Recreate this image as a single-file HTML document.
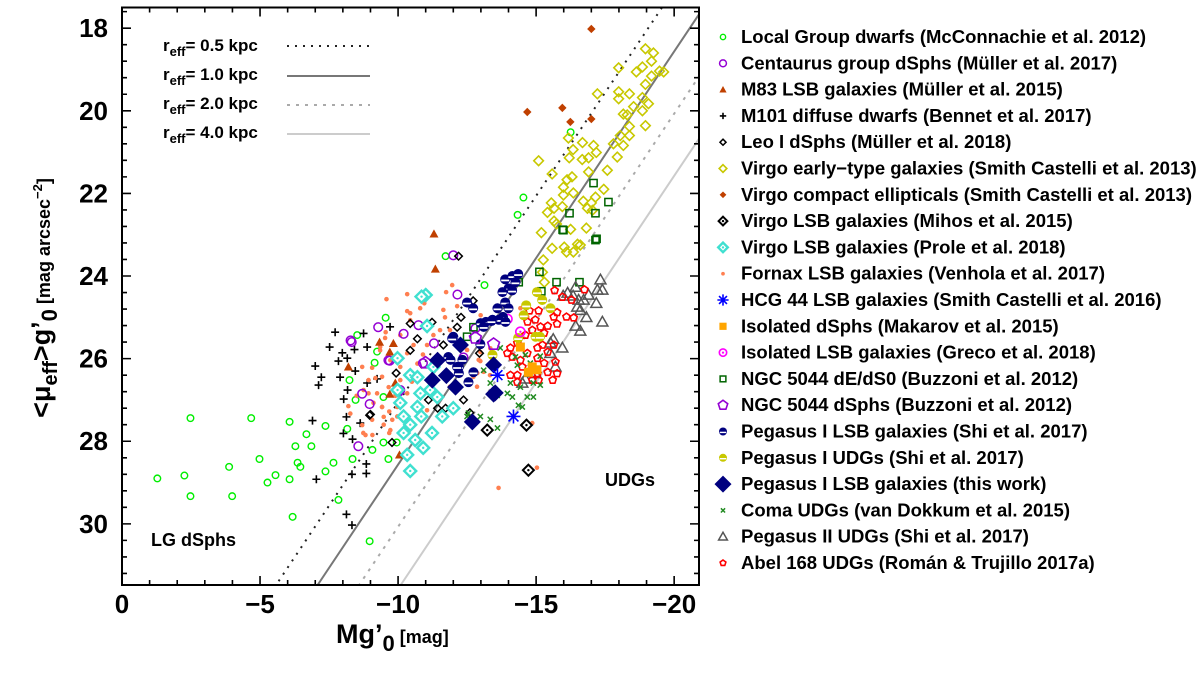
<!DOCTYPE html>
<html><head><meta charset="utf-8"><style>
html,body{margin:0;padding:0;background:#fff;}
svg{display:block;font-family:"Liberation Sans",Arial,sans-serif;font-weight:bold;}
</style></head><body>
<svg id="chart" width="1200" height="676" viewBox="0 0 1200 676" xmlns="http://www.w3.org/2000/svg">
<rect width="1200" height="676" fill="#fff"/>
<g id="lines"></g><g id="marks"></g><g id="axes"></g><g id="legend"></g>
</svg>
<script>
// ---- data arrays (M_g, mu_eff) ----
const lgM=[-1.28,-2.26,-2.48,-2.48,-3.88,-3.99,-4.68,-4.98,-5.27,-5.56,-6.07,-6.07,-6.28,-6.36,-6.46,-6.68,-6.86,-6.18,-7.37,-7.37,-7.66,-7.84,-8.16,-8.35,-8.97,-9.07,-9.47,-9.65,-9.55,-8.52,-9.24,-9.15,-8.24,-8.46,-9.47,-9.95,-11.72,-14.54,-14.33,-16.25,-13.13,-10.85];
const lgMu=[28.9,28.83,27.44,29.33,28.62,29.33,27.44,28.43,29.0,28.82,28.92,27.53,28.12,28.52,28.62,27.83,28.12,29.83,27.63,28.73,28.52,29.42,27.7,28.43,30.42,28.21,28.03,28.43,25.01,25.43,25.83,26.1,26.52,27.0,26.93,28.03,23.52,22.1,22.52,20.52,24.22,24.5];
const cenM=[-8.32,-9.28,-10.2,-8.7,-8.97,-8.56,-10.08,-10.74,-11.3,-9.65,-10.9,-8.28,-9.7,-10.03,-12.15,-12.37,-12.8,-12.0];
const cenMu=[25.6,25.24,25.4,26.85,27.1,28.12,26.76,25.19,25.63,26.04,26.11,25.56,26.05,26.8,24.45,25.97,25.27,23.5];
const m83M=[-11.3,-11.35,-8.2,-9.33,-9.83,-9.7,-9.9,-10.3,-10.05,-9.7];
const m83Mu=[22.98,23.83,26.2,25.6,25.63,25.84,26.59,27.68,28.33,26.86];
const m101M=[-7.72,-7.52,-7.98,-7.84,-8.16,-8.42,-8.75,-8.88,-7.0,-7.22,-7.12,-7.9,-8.17,-8.03,-8.88,-9.24,-8.13,-8.63,-6.9,-8.02,-8.35,-8.85,-8.33,-8.85,-7.04,-8.13,-8.33,-9.71,-8.45];
const m101Mu=[25.36,25.72,25.86,26.06,25.99,25.78,25.39,25.72,26.18,26.45,26.64,26.45,26.76,26.98,26.59,26.49,27.41,27.56,27.5,27.81,27.95,28.55,28.8,28.78,28.92,29.77,30.03,25.23,26.3];
const leoM=[-12.19,-11.23,-10.7,-10.44,-12.28,-12.14,-11.64,-12.72,-12.5,-9.93,-11.1,-11.43,-11.72,-12.37,-12.6,-9.0,-9.78,-8.97,-10.44,-12.95];
const leoMu=[23.52,25.12,25.52,25.8,25.0,25.24,25.67,24.6,24.65,26.35,27.0,27.2,27.2,27.0,27.31,27.35,28.03,27.37,25.15,25.87];
const vetM=[-18.96,-19.25,-19.18,-17.99,-18.85,-18.63,-19.47,-19.62,-19.18,-18.96,-17.22,-17.99,-18.38,-17.99,-18.85,-19.07,-18.53,-18.85,-18.16,-18.3,-18.38,-18.96,-18.05,-18.38,-17.8,-18.16,-17.08,-16.68,-16.17,-16.34,-17.18,-17.94,-16.2,-16.67,-16.9,-15.09,-15.58,-16.9,-17.58,-16.12,-16.3,-15.99,-17.45,-16.35,-15.99,-17.15,-16.71,-17.0,-15.55,-15.65,-15.95,-16.86,-15.41,-17.04,-15.65,-15.74,-15.19,-16.25,-16.82,-15.58,-16.5,-16.1,-15.26,-15.23,-16.02,-16.35,-16.6,-15.3];
const vetMu=[18.5,18.6,18.8,18.96,18.94,19.06,19.04,19.06,19.16,19.36,19.59,19.54,19.59,19.71,19.68,19.83,19.9,20.0,20.08,20.1,20.38,20.36,20.6,20.6,20.8,20.84,20.84,20.77,20.66,20.94,21.01,21.12,21.14,21.18,21.14,21.21,21.53,21.48,21.44,21.67,21.6,21.85,21.9,21.99,22.04,22.09,22.19,22.23,22.23,22.36,22.32,22.36,22.46,22.41,22.67,22.74,22.95,22.87,22.84,23.33,23.23,23.42,23.61,23.91,23.3,23.42,23.25,24.15];
const vceM=[-17.0,-14.68,-15.95,-16.24,-17.0];
const vceMu=[18.02,20.03,19.93,20.27,20.2];
const mihM=[-14.65,-13.23,-14.72];
const mihMu=[27.61,27.73,28.7];
const proM=[-11.0,-11.05,-9.98,-9.98,-10.44,-10.7,-10.81,-11.16,-10.7,-10.08,-10.2,-10.44,-10.84,-11.23,-10.91,-10.62,-10.2,-11.42,-11.6,-12.0,-10.33,-10.44,-11.28,-10.85];
const proMu=[24.46,25.21,25.99,26.76,26.4,26.45,26.84,26.76,27.17,27.07,27.4,27.6,27.4,27.8,28.16,27.97,27.8,26.93,27.4,27.2,28.33,28.72,26.2,24.5];
const forM=[-9.58,-10.33,-10.8,-10.95,-11.96,-11.74,-12.14,-11.7,-10.33,-10.44,-9.53,-9.35,-9.06,-8.7,-9.18,-9.42,-9.66,-9.24,-9.11,-9.42,-9.68,-9.79,-9.48,-8.74,-9.06,-9.68,-9.97,-8.27,-8.93,-8.93,-10.08,-10.33,-10.56,-11.05,-11.28,-11.52,-11.88,-12.07,-12.86,-12.73,-12.98,-12.5,-10.7,-10.33,-10.08,-9.72,-8.75,-9.72,-8.2,-8.82,-8.7,-9.07,-9.42,-9.48,-9.97,-10.44,-10.08,-9.55,-9.35,-10.5,-11.05,-11.88,-13.33,-13.64,-14.86,-15.03,-12.98,-12.87,-13.34,-11.64,-12.99,-13.1,-12.92,-14.43,-14.68,-10.9,-11.3,-12.3,-8.5,-9.9];
const forMu=[24.56,24.44,24.78,24.66,24.22,24.39,24.73,25.0,24.85,25.07,25.5,25.72,26.22,26.2,26.47,26.44,26.69,26.84,27.07,27.17,27.28,27.48,27.6,27.8,27.48,27.8,27.4,27.33,26.52,26.84,26.2,25.87,25.67,25.67,25.43,25.31,25.31,25.5,26.68,26.44,25.84,25.79,26.12,26.84,26.52,26.04,26.76,27.73,27.15,27.85,27.61,27.85,27.17,27.41,27.17,24.9,25.43,25.36,25.8,26.56,27.25,26.68,26.4,29.13,27.56,28.64,26.06,26.35,25.75,24.82,24.95,26.32,26.03,24.78,24.99,25.9,26.3,26.0,26.9,26.9];
const hcgM=[-13.6,-14.18];
const hcgMu=[26.4,27.4];
const isoM=[-14.43,-14.86,-14.72,-15.03];
const isoMu=[25.72,26.2,26.33,26.27];
const grecoM=[-13.96,-14.43];
const grecoMu=[25.04,25.35];
const n5044eM=[-15.96,-17.15,-15.12,-15.74,-16.57,-14.37,-15.19,-12.73,-12.5,-17.08,-17.62,-16.21,-17.15,-15.99,-17.19];
const n5044eMu=[22.88,23.13,23.9,24.15,24.15,24.15,24.37,25.24,25.47,21.75,22.21,22.48,22.48,22.89,23.1];
const n5044dM=[-13.46,-12.8,-10.99];
const n5044dMu=[25.65,25.5,26.1];
const pegM=[-13.88,-14.14,-14.35,-14.25,-14.0,-13.78,-14.13,-13.88,-13.6,-14.0,-13.8,-13.65,-13.42,-13.18,-12.99,-13.89,-12.5,-12.0,-12.33,-12.2,-12.2,-12.73,-12.55,-11.96,-11.82,-12.14,-12.72,-13.1,-13.38,-11.42,-11.9,-12.98];
const pegMu=[24.08,24.0,23.95,24.15,24.3,24.39,24.35,24.64,24.78,24.78,24.99,25.06,25.06,25.11,25.14,25.11,24.64,25.47,26.03,26.2,26.35,26.33,26.57,25.51,25.96,26.2,24.78,25.23,25.09,26.06,26.03,25.65];
const pegUM=[-15.03,-15.22,-15.52,-14.64,-14.55,-14.35,-14.98,-15.14,-13.42];
const pegUMu=[24.39,24.58,24.78,24.71,24.95,25.5,25.47,25.47,25.91];
const thisM=[-12.26,-11.43,-11.24,-11.75,-12.08,-12.69,-13.46,-13.46,-13.52];
const thisMu=[25.67,26.04,26.52,26.41,26.69,27.53,26.86,26.15,26.83];
const comaM=[-13.7,-14.25,-14.61,-14.32,-14.79,-15.15,-14.07,-14.43,-14.68,-14.9,-15.15,-13.96,-14.14,-14.36,-14.5,-13.34,-13.59,-13.1,-12.5,-12.98,-13.34,-13.6,-14.9,-12.55];
const comaMu=[25.74,25.96,25.91,26.16,26.11,25.94,26.59,26.69,26.93,26.93,26.64,26.84,26.93,27.13,27.17,26.59,26.89,26.28,27.4,27.4,27.47,27.68,26.59,27.32];
const peg2M=[-17.33,-17.22,-17.4,-16.9,-16.72,-16.43,-16.14,-16.54,-16.49,-16.6,-17.18,-16.82,-17.4,-16.43,-16.6,-15.62,-15.52,-15.95,-15.52,-15.7,-14.98,-14.79,-14.61,-14.5,-15.98,-16.34];
const peg2Mu=[24.09,24.34,24.34,24.46,24.58,24.27,24.41,24.58,24.75,24.83,24.66,25.0,25.11,25.21,25.33,25.53,25.62,25.74,25.87,26.2,26.36,26.33,26.49,26.59,24.48,24.48];
const abelM=[-15.67,-15.95,-16.28,-16.75,-16.36,-16.1,-15.76,-15.64,-15.76,-15.09,-14.97,-14.76,-15.16,-14.86,-15.29,-15.42,-14.69,-14.61,-15.05,-15.23,-15.64,-15.42,-14.32,-14.07,-13.96,-14.14,-14.43,-14.68,-15.05,-15.29,-15.05,-14.5,-14.32,-14.07,-14.32,-14.86,-15.09,-15.42,-15.6,-15.7,-15.76];
const abelMu=[24.35,24.51,24.58,24.33,25.01,24.99,24.88,24.99,25.16,24.84,25.06,24.84,25.23,25.31,25.38,25.21,25.11,25.43,25.74,25.67,25.67,25.84,25.62,25.74,25.87,25.96,26.04,25.87,25.99,26.11,26.36,26.2,26.4,26.4,26.57,26.52,26.52,26.33,26.52,26.08,26.36];
const reffKpc=[0.5,1.0,2.0,4.0];
const xTicks=[0,-5,-10,-15,-20];
const yTicks=[18,20,22,24,26,28,30];

// ---- axes ----
const X0=122,X1=699,Y0=7.5,Y1=585;
const xMin=0,xMax=-20.9,yMin=17.5,yMax=31.48;
const sx=m=>X0+(m-xMin)/(xMax-xMin)*(X1-X0);
const sy=u=>Y0+(u-yMin)/(yMax-yMin)*(Y1-Y0);
const NS='http://www.w3.org/2000/svg';
function mk(tag,attrs,parent){const e=document.createElementNS(NS,tag);for(const k in attrs)e.setAttribute(k,attrs[k]);parent.appendChild(e);return e;}
const gL=document.getElementById('lines'),gM=document.getElementById('marks'),gA=document.getElementById('axes'),gG=document.getElementById('legend');

const lineSty=[{c:'#222',w:2,d:'2,6'},{c:'#777',w:2,d:''},{c:'#aaa',w:2,d:'3,6'},{c:'#ccc',w:2,d:''}];
const clip=mk('clipPath',{id:'pc'},gL);mk('rect',{x:X0,y:Y0,width:X1-X0,height:Y1-Y0},clip);
reffKpc.forEach((r,i)=>{
  const c=36.57+2.5*Math.log10(2*Math.PI*r*r);
  const ln=mk('line',{x1:sx(yMin-c),y1:sy(yMin),x2:sx(yMax-c),y2:sy(yMax),stroke:lineSty[i].c,'stroke-width':lineSty[i].w,'stroke-dasharray':lineSty[i].d,'clip-path':'url(#pc)'},gL);
  
  
});

function drawMarker(type,x,y,p,s){
  const g=mk('g',{},p);s=s||1;
  switch(type){
    case 'gcirc':mk('circle',{cx:x,cy:y,r:3.3*s,fill:'none',stroke:'#00ee00','stroke-width':1.4},g);break;
    case 'pcirc':mk('circle',{cx:x,cy:y,r:4.3*s,fill:'none',stroke:'#9400d3','stroke-width':1.5},g);break;
    case 'tri':{const a=4.5*s;mk('polygon',{points:`${x},${y-a} ${x-a},${y+a*0.8} ${x+a},${y+a*0.8}`,fill:'#c04000'},g);break;}
    case 'plus':{const a=4*s;mk('path',{d:`M${x-a},${y}H${x+a}M${x},${y-a}V${y+a}`,stroke:'#000','stroke-width':1.6},g);break;}
    case 'sdia':{const a=3.8*s;mk('polygon',{points:`${x},${y-a} ${x+a},${y} ${x},${y+a} ${x-a},${y}`,fill:'none',stroke:'#000','stroke-width':1.5},g);break;}
    case 'ydia':{const a=4.8*s;mk('polygon',{points:`${x},${y-a} ${x+a},${y} ${x},${y+a} ${x-a},${y}`,fill:'none',stroke:'#c8c800','stroke-width':1.6},g);break;}
    case 'bdia':{const a=4.2*s;mk('polygon',{points:`${x},${y-a} ${x+a},${y} ${x},${y+a} ${x-a},${y}`,fill:'#c04000'},g);break;}
    case 'kdia':{const a=5.5*s;mk('polygon',{points:`${x},${y-a} ${x+a},${y} ${x},${y+a} ${x-a},${y}`,fill:'none',stroke:'#000','stroke-width':2},g);mk('circle',{cx:x,cy:y,r:1.2,fill:'#000'},g);break;}
    case 'cdia':{const a=6*s;mk('polygon',{points:`${x},${y-a} ${x+a},${y} ${x},${y+a} ${x-a},${y}`,fill:'#fff',stroke:'#40e0d0','stroke-width':2.4},g);mk('circle',{cx:x,cy:y,r:1.2,fill:'#40e0d0'},g);break;}
    case 'dot':mk('circle',{cx:x,cy:y,r:2.3*s,fill:'#ff7f50'},g);break;
    case 'ast':{const a=7*s;let d='';for(let k=0;k<4;k++){const t=k*Math.PI/4;d+=`M${x-a*Math.cos(t)},${y-a*Math.sin(t)}L${x+a*Math.cos(t)},${y+a*Math.sin(t)}`;}mk('path',{d,stroke:'#0000ff','stroke-width':1.6},g);break;}
    case 'osq':{const a=4.5*s;mk('rect',{x:x-a,y:y-a,width:2*a,height:2*a,fill:'#ffa500'},g);break;}
    case 'mcirc':mk('circle',{cx:x,cy:y,r:4.6*s,fill:'none',stroke:'#ff00ff','stroke-width':1.6},g);mk('circle',{cx:x,cy:y,r:1.1,fill:'#ff00ff'},g);break;
    case 'gsq':{const a=3.6*s;mk('rect',{x:x-a,y:y-a,width:2*a,height:2*a,fill:'none',stroke:'#006400','stroke-width':1.5},g);break;}
    case 'pent':case 'rpent':{const a=(type=='pent'?6.2:3.8)*s;let pts=[];for(let k=0;k<5;k++){const t=-Math.PI/2+k*2*Math.PI/5;pts.push((x+a*Math.cos(t))+','+(y+a*Math.sin(t)));}mk('polygon',{points:pts.join(' '),fill:'none',stroke:type=='pent'?'#9400d3':'#ff0000','stroke-width':1.6},g);break;}
    case 'navc':case 'ylc':{const a=5*s,c=type=='navc'?'#00007f':'#c8c800';mk('circle',{cx:x,cy:y,r:a,fill:c},g);mk('rect',{x:x-a*0.8,y:y+a*0.05,width:a*1.6,height:a*0.35,fill:'#fff'},g);break;}
    case 'ndia':{const a=8.5*s;mk('polygon',{points:`${x},${y-a} ${x+a},${y} ${x},${y+a} ${x-a},${y}`,fill:'#00007f'},g);break;}
    case 'cross':{const a=2.6*s;mk('path',{d:`M${x-a},${y-a}L${x+a},${y+a}M${x-a},${y+a}L${x+a},${y-a}`,stroke:'#228b22','stroke-width':1.5},g);break;}
    case 'gtri':{const a=5.5*s;mk('polygon',{points:`${x},${y-a} ${x-a},${y+a*0.75} ${x+a},${y+a*0.75}`,fill:'none',stroke:'#555','stroke-width':1.5},g);break;}
  }
  return g;
}
const series=[
 {n:'local-group-dwarfs',t:'gcirc',M:lgM,U:lgMu,lab:'Local Group dwarfs  (McConnachie et al. 2012)'},
 {n:'centaurus-dsphs',t:'pcirc',M:cenM,U:cenMu,lab:'Centaurus group dSphs  (Müller et al. 2017)'},
 {n:'m83-lsb',t:'tri',M:m83M,U:m83Mu,lab:'M83 LSB galaxies (Müller et al. 2015)'},
 {n:'m101-dwarfs',t:'plus',M:m101M,U:m101Mu,lab:'M101 diffuse dwarfs (Bennet et al. 2017)'},
 {n:'leo-i-dsphs',t:'sdia',M:leoM,U:leoMu,lab:'Leo I dSphs (Müller et al. 2018)'},
 {n:'virgo-early-type',t:'ydia',M:vetM,U:vetMu,lab:'Virgo early−type galaxies (Smith Castelli et al. 2013)'},
 {n:'virgo-compact-ellipticals',t:'bdia',M:vceM,U:vceMu,lab:'Virgo compact ellipticals (Smith Castelli et al. 2013)'},
 {n:'virgo-lsb-mihos',t:'kdia',M:mihM,U:mihMu,lab:'Virgo LSB galaxies (Mihos et al. 2015)'},
 {n:'virgo-lsb-prole',t:'cdia',M:proM,U:proMu,lab:'Virgo LSB galaxies (Prole et al. 2018)'},
 {n:'fornax-lsb',t:'dot',M:forM,U:forMu,lab:'Fornax LSB galaxies (Venhola et al. 2017)'},
 {n:'hcg44-lsb',t:'ast',M:hcgM,U:hcgMu,lab:'HCG 44 LSB galaxies (Smith Castelli et al. 2016)'},
 {n:'isolated-dsphs',t:'osq',M:isoM,U:isoMu,lab:'Isolated dSphs (Makarov et al. 2015)'},
 {n:'isolated-lsb',t:'mcirc',M:grecoM,U:grecoMu,lab:'Isolated LSB galaxies (Greco et al. 2018)'},
 {n:'ngc5044-de',t:'gsq',M:n5044eM,U:n5044eMu,lab:'NGC 5044 dE/dS0 (Buzzoni et al. 2012)'},
 {n:'ngc5044-dsphs',t:'pent',M:n5044dM,U:n5044dMu,lab:'NGC 5044 dSphs (Buzzoni et al. 2012)'},
 {n:'pegasus-i-lsb-shi',t:'navc',M:pegM,U:pegMu,lab:'Pegasus I LSB galaxies (Shi et al. 2017)'},
 {n:'pegasus-i-udgs',t:'ylc',M:pegUM,U:pegUMu,lab:'Pegasus I UDGs (Shi et al. 2017)'},
 {n:'pegasus-i-this-work',t:'ndia',M:thisM,U:thisMu,lab:'Pegasus I LSB galaxies (this work)'},
 {n:'coma-udgs',t:'cross',M:comaM,U:comaMu,lab:'Coma UDGs (van Dokkum et al. 2015)'},
 {n:'pegasus-ii-udgs',t:'gtri',M:peg2M,U:peg2Mu,lab:'Pegasus II UDGs (Shi et al. 2017)'},
 {n:'abel168-udgs',t:'rpent',M:abelM,U:abelMu,lab:'Abel 168 UDGs (Román & Trujillo 2017a)'}
];
const order=[0,3,9,1,2,4,5,6,13,19,20,18,11,16,12,15,14,8,7,17,10];
order.forEach(si=>{const s=series[si];
  const g=mk('g',{},gM);
  
  
  s.M.forEach((m,i)=>{const e=drawMarker(s.t,sx(m),sy(s.U[i]),g);
    
    });
});

const fr=mk('rect',{x:X0,y:Y0,width:X1-X0,height:Y1-Y0,fill:'none',stroke:'#000','stroke-width':2},gA);


let td='';
for(let m=0;m>=-20;m--){const x=sx(m),L=(m%5==0)?9:5;td+=`M${x},${Y1}v${-L}M${x},${Y0}v${L}`;}
for(let k=0;k<=35;k++){const u=17.6+k*0.4;if(u>yMax)break;const y=sy(u);const major=Math.abs(u-Math.round(u))<0.01&&Math.round(u)%2==0;const L=major?9:5;td+=`M${X0},${y}h${L}M${X1},${y}h${-L}`;}
mk('path',{d:td,stroke:'#000','stroke-width':1.6,fill:'none'},gA);
xTicks.forEach(v=>{const t=mk('text',{x:sx(v),y:613,'text-anchor':'middle','font-size':26},gA);t.textContent=v==0?'0':'−'+Math.abs(v);
  
  });
yTicks.forEach(v=>{const t=mk('text',{x:108,y:sy(v)+9,'text-anchor':'end','font-size':26},gA);t.textContent=v;
  
  });
</script>
<svg style="position:absolute;left:0;top:0" width="1200" height="676" xmlns="http://www.w3.org/2000/svg" font-family="Liberation Sans, Arial, sans-serif" font-weight="bold">
<text x="336" y="643" font-size="27">Mg’<tspan font-size="22" dy="8">0</tspan><tspan font-size="18" dy="-8"> [mag]</tspan></text>
<text transform="translate(50,298) rotate(-90)" text-anchor="middle" font-size="27">&lt;μ<tspan font-size="20" dy="7">eff</tspan><tspan dy="-7">&gt;g’</tspan><tspan font-size="22" dy="7">0</tspan><tspan font-size="18" dy="-7"> [mag arcsec</tspan><tspan font-size="13" dy="-8">−2</tspan><tspan font-size="18" dy="8">]</tspan></text>
<text x="151" y="546" font-size="18">LG dSphs</text>
<text x="605" y="486" font-size="18">UDGs</text>
<g font-size="17">
<text x="163" y="51">r<tspan font-size="13" dy="5">eff</tspan><tspan dy="-5">= 0.5 kpc</tspan></text>
<text x="163" y="80">r<tspan font-size="13" dy="5">eff</tspan><tspan dy="-5">= 1.0 kpc</tspan></text>
<text x="163" y="109">r<tspan font-size="13" dy="5">eff</tspan><tspan dy="-5">= 2.0 kpc</tspan></text>
<text x="163" y="138">r<tspan font-size="13" dy="5">eff</tspan><tspan dy="-5">= 4.0 kpc</tspan></text>
<line x1="287" y1="46" x2="370" y2="46" stroke="#222" stroke-width="2" stroke-dasharray="2,6"/>
<line x1="287" y1="76" x2="370" y2="76" stroke="#777" stroke-width="2"/>
<line x1="287" y1="105" x2="370" y2="105" stroke="#aaa" stroke-width="2" stroke-dasharray="3,6"/>
<line x1="287" y1="134" x2="370" y2="134" stroke="#ccc" stroke-width="2"/>
</g>
</svg>
<script>
series.forEach((s,i)=>{const y=37+i*26.3;
  const g=mk('g',{},gG);
  
  
  drawMarker(s.t,723,y,g,s.t=='ndia'?1:0.8);
  const t=mk('text',{x:741,y:y+6,'font-size':18.5},g);t.textContent=s.lab;
});
</script>
</body></html>
